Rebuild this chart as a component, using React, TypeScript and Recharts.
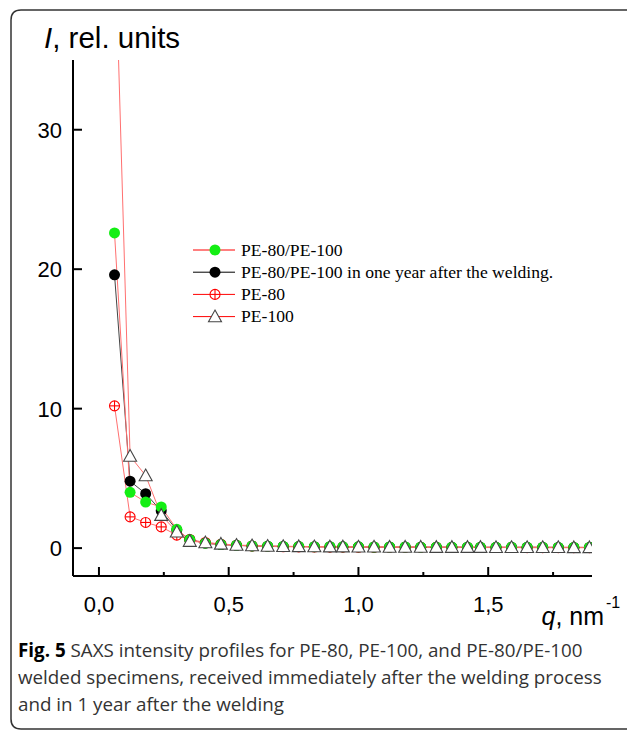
import { LineChart, Line, XAxis, YAxis } from 'recharts';

const qValues = [
  0.06, 0.12, 0.18, 0.24, 0.3, 0.35, 0.41, 0.47, 0.53, 0.59, 0.65, 0.71, 0.77, 0.83, 0.89, 0.94,
  1.0, 1.06, 1.12, 1.18, 1.24, 1.3, 1.36, 1.42, 1.47, 1.53, 1.59, 1.65, 1.71, 1.77, 1.83, 1.89,
];

const weldedNow = [
  22.6, 4.0, 3.3, 2.95, 1.35, 0.6, 0.35, 0.25, 0.2, 0.16, 0.14, 0.12, 0.11, 0.1, 0.1, 0.09,
  0.09, 0.08, 0.08, 0.08, 0.07, 0.07, 0.07, 0.07, 0.06, 0.06, 0.06, 0.06, 0.06, 0.05, 0.05, 0.05,
];
const weldedYear = [
  19.6, 4.8, 3.9, 2.67, 1.3, 0.6, 0.35, 0.25, 0.2, 0.16, 0.14, 0.12, 0.11, 0.1, 0.1, 0.09,
  0.09, 0.08, 0.08, 0.08, 0.07, 0.07, 0.07, 0.07, 0.06, 0.06, 0.06, 0.06, 0.06, 0.05, 0.05, 0.05,
];
const pe80 = [
  10.2, 2.24, 1.84, 1.52, 0.93, 0.62, 0.4, 0.28, 0.2, 0.15, 0.12, 0.1, 0.09, 0.08, 0.07, 0.07,
  0.06, 0.06, 0.05, 0.05, 0.05, 0.05, 0.04, 0.04, 0.04, 0.04, 0.04, 0.03, 0.03, 0.03, 0.03, 0.03,
];
const pe100 = [
  45, 6.6, 5.2, 2.36, 1.17, 0.5, 0.4, 0.3, 0.22, 0.18, 0.15, 0.13, 0.12, 0.11, 0.1, 0.1,
  0.09, 0.09, 0.08, 0.08, 0.08, 0.07, 0.07, 0.07, 0.07, 0.06, 0.06, 0.06, 0.06, 0.06, 0.05, 0.05,
];

const xTicks = [0, 0.25, 0.5, 0.75, 1.0, 1.25, 1.5, 1.75];
const xMajor = [0, 0.5, 1.0, 1.5];
const xLabels = ['0,0', '0,5', '1,0', '1,5'];
const yTicks = [0, 10, 20, 30];

const data = qValues.map((q, i) => ({
  q,
  now: weldedNow[i],
  year: weldedYear[i],
  pe80: pe80[i],
  pe100: pe100[i],
}));

const ARIAL = '"Liberation Sans", Arial, sans-serif';
const TIMES = '"Liberation Serif", "Times New Roman", serif';
const CAPTION = '"Open Sans", "Noto Sans", sans-serif';
const RED_LINE = '#ff7070';

const GreenDot = ({ cx, cy, r = 5.5 }: any) =>
  cx == null || cy == null ? null : <circle cx={cx} cy={cy} r={r} fill="#14ee14" stroke="none" />;

const BlackDot = ({ cx, cy, r = 5.5 }: any) =>
  cx == null || cy == null ? null : <circle cx={cx} cy={cy} r={r} fill="#000" stroke="none" />;

const CrossDot = ({ cx, cy, r = 5 }: any) =>
  cx == null || cy == null ? null : (
    <g>
      <circle cx={cx} cy={cy} r={r} fill="#fff" stroke="#ff0000" strokeWidth={1.1} />
      <line x1={cx - r} y1={cy} x2={cx + r} y2={cy} stroke="#ff0000" strokeWidth={1.1} />
      <line x1={cx} y1={cy - r} x2={cx} y2={cy + r} stroke="#ff0000" strokeWidth={1.1} />
    </g>
  );

const TriDot = ({ cx, cy, s = 6.5 }: any) =>
  cx == null || cy == null ? null : (
    <path
      d={`M${cx},${cy - s} L${cx + s},${cy + s * 0.8} L${cx - s},${cy + s * 0.8} Z`}
      fill="#fff"
      stroke="#444"
      strokeWidth={1.1}
    />
  );

const series = [
  { key: 'pe80', name: 'PE-80', stroke: RED_LINE, legendStroke: '#ff0000', Dot: CrossDot },
  { key: 'year', name: 'PE-80/PE-100 in one year after the welding.', stroke: '#444', legendStroke: '#000', Dot: BlackDot },
  { key: 'now', name: 'PE-80/PE-100', stroke: RED_LINE, legendStroke: '#ff0000', Dot: GreenDot },
  { key: 'pe100', name: 'PE-100', stroke: RED_LINE, legendStroke: '#ff0000', Dot: TriDot },
];
const legendOrder = ['now', 'year', 'pe80', 'pe100'];

const TICK_MARGIN = 10;

const XTick = ({ x, y, payload }: any) => {
  const axisY = y - TICK_MARGIN;
  const idx = xMajor.indexOf(payload.value);
  const major = idx >= 0;
  return (
    <g>
      <line x1={x} y1={axisY} x2={x} y2={axisY - (major ? 9 : 4)} stroke="#000" strokeWidth={2} />
      {major && (
        <text x={x} y={axisY + 36} textAnchor="middle" fontFamily={ARIAL} fontSize={22} fill="#000">
          {xLabels[idx]}
        </text>
      )}
    </g>
  );
};

const YTick = ({ x, y, payload }: any) => {
  const axisX = x + TICK_MARGIN;
  return (
    <g>
      <line x1={axisX} y1={y} x2={axisX + 9} y2={y} stroke="#000" strokeWidth={2} />
      <text x={axisX - 11} y={y + 8} textAnchor="end" fontFamily={ARIAL} fontSize={22} fill="#000">
        {payload.value}
      </text>
    </g>
  );
};

const LegendBox = () => (
  <svg width={400} height={100} style={{ position: 'absolute', left: 190, top: 238 }}>
    {legendOrder.map((k, i) => {
      const s = series.find((e) => e.key === k)!;
      const cy = 12 + i * 22.2;
      const D = s.Dot;
      return (
        <g key={k}>
          <line x1={3} y1={cy} x2={45} y2={cy} stroke={s.legendStroke} strokeWidth={1} />
          <D cx={25} cy={cy} />
          <text x={51} y={cy + 5.5} fontFamily={TIMES} fontSize={17.6} fill="#000">
            {s.name}
          </text>
        </g>
      );
    })}
  </svg>
);

export default function App() {
  return (
    <div style={{ position: 'absolute', left: 0, top: 0, width: 627, height: 732, background: '#fff' }}>
      <svg width={627} height={732} style={{ position: 'absolute', left: 0, top: 0 }}>
        <path
          d="M640,10 L21,10 Q11,10 11,20 L11,719 Q11,729 21,729 L640,729"
          fill="none"
          stroke="#333"
          strokeWidth={1.5}
        />
        <text x={44} y={48} fontFamily={ARIAL} fontSize={29.5} fill="#000">
          <tspan fontStyle="italic">I</tspan>, rel. units
        </text>
        <text x={604} y={625} textAnchor="end" fontFamily={ARIAL} fontSize={25} fill="#000">
          <tspan fontStyle="italic">q</tspan>, nm
        </text>
        <text x={606} y={608} fontFamily={ARIAL} fontSize={16} fill="#000">
          -1
        </text>
        <text fontFamily={CAPTION} fontSize={18.8} fill="#333">
          <tspan x={18} y={657}>
            <tspan fontWeight="bold" fill="#000">Fig. 5</tspan> SAXS intensity profiles for PE-80, PE-100, and PE-80/PE-100
          </tspan>
          <tspan x={18} y={684}>welded specimens, received immediately after the welding process</tspan>
          <tspan x={18} y={711}>and in 1 year after the welding</tspan>
        </text>
      </svg>
      <div style={{ position: 'absolute', left: 0, top: 0 }}>
        <LineChart
          width={627}
          height={732}
          data={data}
          margin={{ top: 60, right: 35, bottom: 116, left: 13 }}
        >
          <XAxis
            dataKey="q"
            type="number"
            domain={[-0.1, 1.9]}
            allowDataOverflow
            ticks={xTicks}
            interval={0}
            tickSize={0}
            tickMargin={TICK_MARGIN}
            tickLine={false}
            height={40}
            axisLine={{ stroke: '#000', strokeWidth: 2 }}
            tick={(p: any) => <XTick {...p} />}
          />
          <YAxis
            type="number"
            domain={[-2, 35]}
            allowDataOverflow
            ticks={yTicks}
            interval={0}
            tickSize={0}
            tickMargin={TICK_MARGIN}
            tickLine={false}
            width={60}
            axisLine={{ stroke: '#000', strokeWidth: 2 }}
            tick={(p: any) => <YTick {...p} />}
          />
          {series.map((s) => {
            const D = s.Dot;
            return (
              <Line
                key={s.key}
                dataKey={s.key}
                name={s.name}
                type="linear"
                stroke={s.stroke}
                strokeWidth={1}
                dot={(p: any) => <D key={`${s.key}-${p.index}`} cx={p.cx} cy={p.cy} />}
                activeDot={false}
                isAnimationActive={false}
              />
            );
          })}
        </LineChart>
      </div>
      <LegendBox />
    </div>
  );
}
